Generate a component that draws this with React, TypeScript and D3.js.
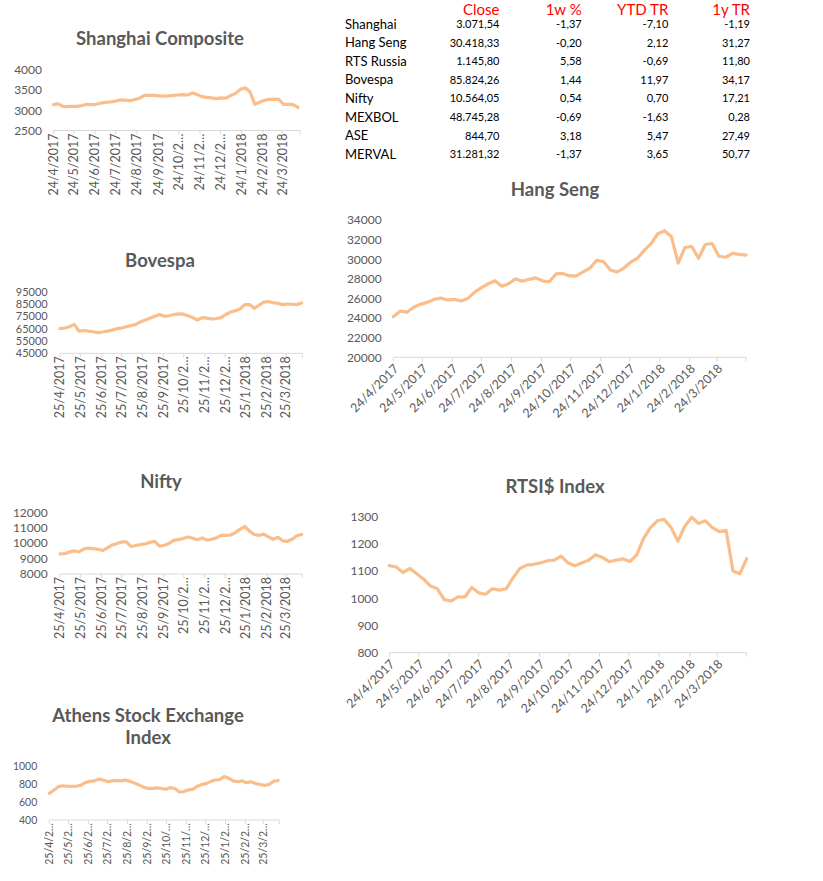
import React from "react";
import * as d3 from "d3";

// ---------- DATA (weekly closes) ----------
const shanghaiValues = [3140,3160,3100,3090,3100,3100,3120,3150,3140,3150,3180,3200,3210,3230,3260,3250,3240,3270,3300,3370,3370,3370,3360,3350,3360,3370,3380,3390,3380,3430,3390,3340,3320,3310,3290,3310,3300,3370,3420,3520,3560,3460,3150,3200,3250,3270,3280,3270,3150,3150,3140,3071];
const bovespaValues = [65000,65500,66500,68500,63000,63500,63000,62500,61800,62300,63000,63800,65000,65500,66500,67500,68500,70500,72000,73500,75000,76500,75000,75500,76500,77000,76800,75500,74000,72000,74000,73500,73000,73200,74000,76500,78500,79500,81000,84500,84500,81500,84000,86500,87000,86000,85500,84500,85000,84800,84500,85824];
const niftyValues = [9310,9320,9420,9500,9440,9620,9680,9640,9600,9520,9700,9880,9970,10080,10090,9780,9850,9900,9960,10050,10120,9800,9860,9980,10180,10230,10300,10400,10320,10220,10340,10200,10250,10340,10500,10510,10530,10680,10900,11080,10780,10560,10500,10590,10400,10250,10380,10150,10120,10250,10480,10564];
const athensValues = [700,735,775,785,780,778,780,790,820,835,840,860,850,830,840,845,840,850,835,815,795,770,755,755,762,755,745,765,755,715,720,740,745,780,800,810,835,850,855,890,870,840,830,840,820,830,810,800,790,800,835,845];
const hangSengValues = [24140,24700,24600,25100,25400,25600,25900,26050,25850,25900,25750,26000,26650,27100,27500,27800,27250,27500,28000,27750,27950,28100,27800,27700,28500,28550,28300,28300,28700,29100,29900,29750,28900,28700,29100,29700,30100,30900,31600,32600,32900,32300,29600,31200,31300,30100,31500,31600,30300,30200,30600,30500,30418];
const rtsiValues = [1120,1115,1095,1110,1090,1070,1045,1035,995,990,1005,1005,1040,1020,1015,1035,1030,1035,1075,1110,1122,1125,1130,1138,1140,1155,1130,1120,1130,1140,1160,1150,1135,1140,1145,1135,1160,1220,1260,1285,1290,1260,1210,1265,1298,1275,1285,1260,1245,1250,1100,1090,1146];

const shanghaiTicks = [2500, 3000, 3500, 4000];
const bovespaTicks = [45000, 55000, 65000, 75000, 85000, 95000];
const niftyTicks = [8000, 9000, 10000, 11000, 12000];
const athensTicks = [400, 600, 800, 1000];
const hangSengTicks = [20000, 22000, 24000, 26000, 28000, 30000, 32000, 34000];
const rtsiTicks = [800, 900, 1000, 1100, 1200, 1300];

const labels24Short = ["24/4/2017","24/5/2017","24/6/2017","24/7/2017","24/8/2017","24/9/2017","24/10/2\u2026","24/11/2\u2026","24/12/2\u2026","24/1/2018","24/2/2018","24/3/2018"];
const labels25Short = ["25/4/2017","25/5/2017","25/6/2017","25/7/2017","25/8/2017","25/9/2017","25/10/2\u2026","25/11/2\u2026","25/12/2\u2026","25/1/2018","25/2/2018","25/3/2018"];
const labelsAthens = ["25/4/2\u2026","25/5/2\u2026","25/6/2\u2026","25/7/2\u2026","25/8/2\u2026","25/9/2\u2026","25/10/\u2026","25/11/\u2026","25/12/\u2026","25/1/2\u2026","25/2/2\u2026","25/3/2\u2026"];
const labels24Full = ["24/4/2017","24/5/2017","24/6/2017","24/7/2017","24/8/2017","24/9/2017","24/10/2017","24/11/2017","24/12/2017","24/1/2018","24/2/2018","24/3/2018"];

const tableHeaders = ["Close", "1w %", "YTD TR", "1y TR"];
const tableNames = ["Shanghai", "Hang Seng", "RTS Russia", "Bovespa", "Nifty", "MEXBOL", "ASE", "MERVAL"];
const tableClose = ["3.071,54", "30.418,33", "1.145,80", "85.824,26", "10.564,05", "48.745,28", "844,70", "31.281,32"];
const tableWeek = ["-1,37", "-0,20", "5,58", "1,44", "0,54", "-0,69", "3,18", "-1,37"];
const tableYtd = ["-7,10", "2,12", "-0,69", "11,97", "0,70", "-1,63", "5,47", "3,65"];
const tableYear = ["-1,19", "31,27", "11,80", "34,17", "17,21", "0,28", "27,49", "50,77"];

// ---------- STYLE ----------
const FONT = "Lato, 'Open Sans', sans-serif";
const LINE = "#F9BE8C";
const GREY = "#595959";
const AXIS = "#D9D9D9";

type ChartProps = {
  title: string[];
  titleX: number;
  titleY: number;
  titleGap?: number;
  titleSize: number;
  values: number[];
  start: Date;
  spanDays: number;
  x0: number;
  x1: number;
  yDomain: [number, number];
  yTicks: number[];
  yTop: number;
  yBottom: number;
  labelRight: number;
  yFont: number;
  tickLabels: string[];
  rotate: number;
  xFont: number;
};

function MiniChart(p: ChartProps) {
  const x = d3.scaleTime().domain([p.start, d3.timeDay.offset(p.start, p.spanDays)]).range([p.x0, p.x1]);
  const y = d3.scaleLinear().domain(p.yDomain).range([p.yBottom, p.yTop]);
  const dates = p.values.map((_, i) => d3.timeDay.offset(p.start, 7 * i));
  const line = d3
    .line<number>()
    .x((_, i) => x(dates[i]))
    .y((v) => y(v));
  const tickDates = p.tickLabels.map((_, m) => d3.timeMonth.offset(p.start, m));
  const axisY = p.yBottom;
  const tickXs = tickDates.map((d) => x(d)).concat([p.x1]);
  return (
    <g>
      {p.title.map((t, i) => (
        <text
          key={i}
          x={p.titleX}
          y={p.titleY + i * (p.titleGap || 0)}
          textAnchor="middle"
          fontFamily={FONT}
          fontWeight={700}
          fontSize={p.titleSize}
          fill={GREY}
        >
          {t}
        </text>
      ))}
      {p.yTicks.map((t) => (
        <text
          key={t}
          x={p.labelRight}
          y={y(t)}
          dy="0.36em"
          textAnchor="end"
          fontFamily={FONT}
          fontSize={p.yFont}
          fill={GREY}
        >
          {t}
        </text>
      ))}
      <line x1={p.x0} x2={p.x1} y1={axisY} y2={axisY} stroke={AXIS} strokeWidth={1} />
      {tickXs.map((tx, i) => (
        <line key={i} x1={tx} x2={tx} y1={axisY} y2={axisY + 4} stroke={AXIS} strokeWidth={1} />
      ))}
      {tickDates.map((d, i) => {
        const tx = x(d);
        const tr =
          p.rotate === -90
            ? `translate(${tx},${axisY + 3}) rotate(-90)`
            : `translate(${tx + 3},${axisY + 9}) rotate(-45)`;
        return (
          <text
            key={i}
            transform={tr}
            dy="0.35em"
            textAnchor="end"
            fontFamily={FONT}
            fontSize={p.xFont}
            fill={GREY}
          >
            {p.tickLabels[i]}
          </text>
        );
      })}
      <path
        d={line(p.values) || ""}
        fill="none"
        stroke={LINE}
        strokeWidth={3.2}
        strokeLinejoin="round"
        strokeLinecap="round"
      />
    </g>
  );
}

function Table() {
  const cols = [499.5, 581.7, 668.3, 750];
  const rowY = (i: number) => 24 + i * 18.6;
  const colData = [tableClose, tableWeek, tableYtd, tableYear];
  return (
    <g fontFamily={FONT}>
      {tableHeaders.map((h, j) => (
        <text key={h} x={cols[j]} y={14.5} textAnchor="end" fontSize={15} fill="#FF0000">
          {h}
        </text>
      ))}
      {tableNames.map((n, i) => (
        <text key={n} x={345} y={rowY(i)} dy="0.36em" fontSize={13} fill="#000">
          {n}
        </text>
      ))}
      {colData.map((col, j) =>
        col.map((v, i) => (
          <text key={j + "-" + i} x={cols[j]} y={rowY(i)} dy="0.36em" textAnchor="end" fontSize={11} fill="#000">
            {v}
          </text>
        ))
      )}
    </g>
  );
}

export default function App() {
  const d24 = new Date(2017, 3, 24);
  const d25 = new Date(2017, 3, 25);
  return (
    <svg
      width={823}
      height={881}
      style={{ position: "absolute", left: 0, top: 0, background: "#fff" }}
    >
      <rect width={823} height={881} fill="#fff" />
      <Table />
      <MiniChart
        title={["Shanghai Composite"]}
        titleX={160}
        titleY={45}
        titleSize={18.5}
        values={shanghaiValues}
        start={d24}
        spanDays={360}
        x0={53.3}
        x1={300}
        yDomain={[2500, 4000]}
        yTicks={shanghaiTicks}
        yTop={70}
        yBottom={130.5}
        labelRight={42}
        yFont={12}
        tickLabels={labels24Short}
        rotate={-90}
        xFont={12.5}
      />
      <MiniChart
        title={["Bovespa"]}
        titleX={160}
        titleY={267}
        titleSize={18.5}
        values={bovespaValues}
        start={d25}
        spanDays={358}
        x0={60}
        x1={302.3}
        yDomain={[45000, 95000]}
        yTicks={bovespaTicks}
        yTop={291.7}
        yBottom={353.3}
        labelRight={47.7}
        yFont={11}
        tickLabels={labels25Short}
        rotate={-90}
        xFont={12.5}
      />
      <MiniChart
        title={["Nifty"]}
        titleX={161}
        titleY={488}
        titleSize={18.5}
        values={niftyValues}
        start={d25}
        spanDays={358}
        x0={60}
        x1={302.3}
        yDomain={[8000, 12000]}
        yTicks={niftyTicks}
        yTop={512.3}
        yBottom={574}
        labelRight={47.7}
        yFont={12}
        tickLabels={labels25Short}
        rotate={-90}
        xFont={12.5}
      />
      <MiniChart
        title={["Athens Stock Exchange", "Index"]}
        titleX={148}
        titleY={722}
        titleGap={21.5}
        titleSize={18.5}
        values={athensValues}
        start={d25}
        spanDays={359}
        x0={49.3}
        x1={279.3}
        yDomain={[400, 1000]}
        yTicks={athensTicks}
        yTop={766.7}
        yBottom={820}
        labelRight={37.3}
        yFont={10.5}
        tickLabels={labelsAthens}
        rotate={-90}
        xFont={10.5}
      />
      <MiniChart
        title={["Hang Seng"]}
        titleX={555}
        titleY={195.5}
        titleSize={18.5}
        values={hangSengValues}
        start={d24}
        spanDays={364}
        x0={393.3}
        x1={746}
        yDomain={[20000, 34000]}
        yTicks={hangSengTicks}
        yTop={220}
        yBottom={357.3}
        labelRight={381.7}
        yFont={12}
        tickLabels={labels24Full}
        rotate={-45}
        xFont={12.5}
      />
      <MiniChart
        title={["RTSI$ Index"]}
        titleX={555}
        titleY={492.5}
        titleSize={18.5}
        values={rtsiValues}
        start={d24}
        spanDays={364}
        x0={389.3}
        x1={746.7}
        yDomain={[800, 1300]}
        yTicks={rtsiTicks}
        yTop={516.7}
        yBottom={652.7}
        labelRight={378.3}
        yFont={12}
        tickLabels={labels24Full}
        rotate={-45}
        xFont={12.5}
      />
    </svg>
  );
}
